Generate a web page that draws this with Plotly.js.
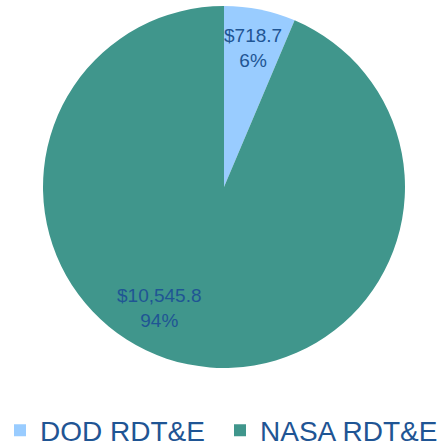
<!DOCTYPE html>
<html>
<head>
<meta charset="utf-8">
<script src="https://cdn.plot.ly/plotly-3.0.1.min.js"></script>
<style>html,body{margin:0;padding:0;background:#fff;}#chart{width:448px;height:448px;}</style>
</head>
<body>
<div id="chart"></div>
<script>
const categories = ["DOD RDT&E", "NASA RDT&E"];
const values = [718.7, 10545.8];
const colors = ["#99CCFF", "#40968C"];

// label anchor points (paper fractions) for the slice labels
const labelPos = [[0.565, 0.893], [0.357, 0.3125]];

const total = values.reduce((a, b) => a + b, 0);
const fmt = v => "$" + v.toLocaleString("en-US", {minimumFractionDigits: 1, maximumFractionDigits: 1});
const labelFont = {family: "Liberation Sans, Arial, sans-serif", size: 19, color: "#1F5594"};

const annotations = values.map((v, i) => ({
  xref: "paper", yref: "paper",
  x: labelPos[i][0], y: labelPos[i][1],
  xanchor: "center", yanchor: "middle",
  showarrow: false,
  text: fmt(v) + "<br>" + Math.round(v / total * 100) + "%",
  font: labelFont
}));

const trace = {
  type: "pie",
  labels: categories,
  values: values,
  sort: false,
  direction: "clockwise",
  rotation: 0,
  marker: {colors: colors, line: {width: 0}},
  textinfo: "none",
  hoverinfo: "none",
  domain: {x: [0.096, 0.904], y: [0.1786, 0.9866]}
};

const layout = {
  width: 448, height: 448,
  margin: {l: 0, r: 0, t: 0, b: 0, autoexpand: false},
  paper_bgcolor: "#ffffff",
  showlegend: true,
  annotations: annotations,
  legend: {
    orientation: "h",
    x: 0, xanchor: "left",
    y: -0.017, yanchor: "bottom",
    font: {family: "Liberation Sans, Arial, sans-serif", size: 28, color: "#1F5594"},
    itemwidth: 30,
    entrywidth: 175,
    entrywidthmode: "pixels",
    tracegroupgap: 0
  }
};

Plotly.newPlot("chart", [trace], layout, {displayModeBar: false, staticPlot: true});
</script>
</body>
</html>
